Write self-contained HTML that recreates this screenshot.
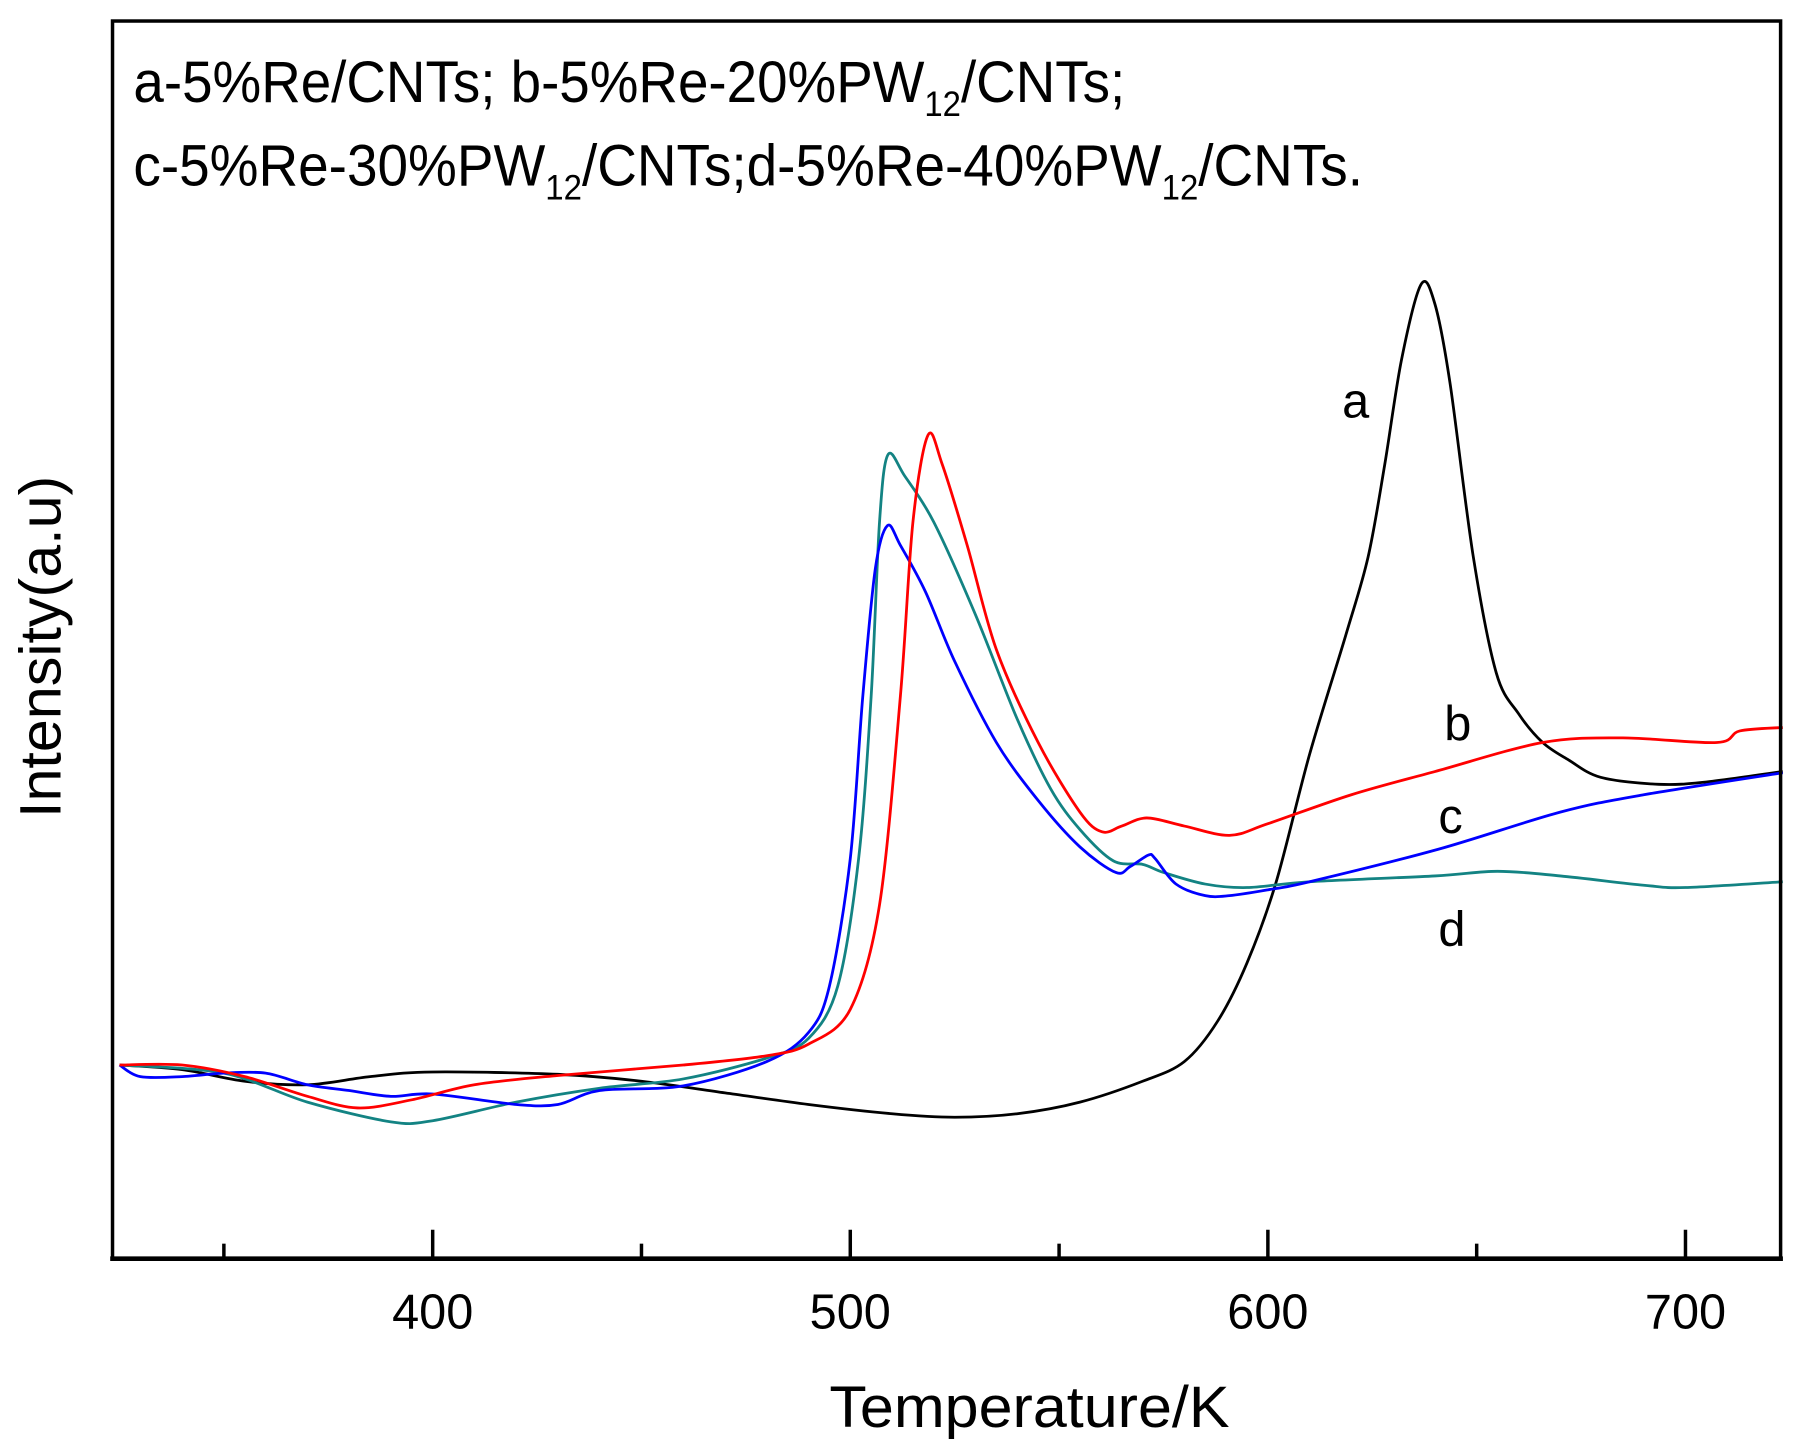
<!DOCTYPE html>
<html><head><meta charset="utf-8"><style>html,body{margin:0;padding:0;background:#fff}svg{display:block}</style></head>
<body>
<svg id="chart" width="1798" height="1441" viewBox="0 0 1550 1242" xmlns="http://www.w3.org/2000/svg" font-family="'Liberation Sans', Arial, sans-serif">
<rect x="0" y="0" width="1550" height="1242" fill="#fff"/>
<g id="plot"></g>
<rect x="97" y="18" width="1438" height="1067" fill="none" stroke="#000" stroke-width="3"/>
<line x1="95" y1="1085" x2="1537" y2="1085" stroke="#000" stroke-width="4"/>
<g id="ticks"></g>
<text x="115" y="88" font-size="50" textLength="855" lengthAdjust="spacingAndGlyphs">a-5%Re/CNTs; b-5%Re-20%PW<tspan font-size="30" dy="12">12</tspan><tspan dy="-12">/CNTs;</tspan></text>
<text x="115" y="160" font-size="50" textLength="1060" lengthAdjust="spacingAndGlyphs">c-5%Re-30%PW<tspan font-size="30" dy="12">12</tspan><tspan dy="-12">/CNTs;d-5%Re-40%PW</tspan><tspan font-size="30" dy="12">12</tspan><tspan dy="-12">/CNTs.</tspan></text>
<text x="715" y="1230" font-size="50" textLength="345" lengthAdjust="spacingAndGlyphs">Temperature/K</text>
<text transform="translate(52,705) rotate(-90)" font-size="50" textLength="295" lengthAdjust="spacingAndGlyphs">Intensity(a.u)</text>
<text x="1157" y="360" font-size="42">a</text>
<text x="1245" y="638" font-size="42">b</text>
<text x="1240" y="718" font-size="42">c</text>
<text x="1240" y="815" font-size="42">d</text>
</svg>
<script>
const xTicks=[350,400,450,500,550,600,650,700];
const xTickLabels=["","400","","500","","600","","700"];
const tempA=[325,340,355,370,385,400,430,450,470,490,510,525,540,555,570,580,588,595,602,610,618.6,624,628,632,636.7,640,643.6,649.2,654.7,660,665.8,672,679.7,693.6,705,723.3];
const intA=[16.7,16.3,15.3,15.0,15.7,16.1,15.9,15.3,14.3,13.3,12.5,12.2,12.5,13.5,15.3,17.0,20.5,25.5,32.5,43.5,53.7,60.5,68.5,77.5,84.0,82.3,75.5,60.5,50.5,47.0,44.5,43.0,41.5,40.9,41.1,42.0];
const tempB=[325,340,355,370,382,395,410,430,460,480,490,500,507,512,515,518.6,522,528,535,545,555,560.3,565,571,580,590.8,600,620,640,665.8,685,707.5,713,723.3];
const intB=[16.7,16.7,15.7,14.0,13.0,13.7,15.0,15.8,16.7,17.5,18.5,21.5,30.5,48.5,63.5,71.0,68.5,61.5,52.5,44.5,38.5,36.8,37.3,38.0,37.3,36.5,37.5,40.0,42.0,44.5,44.9,44.5,45.5,45.8];
const tempC=[325,330,340,350,360,370,380,390,400,420,430,440,460,480,490,495,500,503,506,508.9,512,518,525,535,545,555,563.6,567,571.4,573,578,585,590.8,600,610,640.8,670,690,723.3];
const intC=[16.7,15.7,15.7,16.0,16.0,15.0,14.5,14.0,14.2,13.3,13.3,14.5,14.9,17.0,19.5,23.5,34.5,48.5,59.5,63.2,61.5,57.5,51.5,44.5,39.5,35.5,33.3,33.8,34.8,34.5,32.3,31.3,31.3,31.8,32.5,35.3,38.5,40.0,41.9];
const tempD=[325,350,370,390,400,420,440,460,480,490,497,502,505,507,509,513,520,530,540,548,555,563,570,575,585,595,610,640,655,670,690,700,723.3];
const intD=[16.7,16.0,13.5,11.8,11.9,13.5,14.7,15.5,17.3,19.0,23.5,34.5,48.5,63.5,69.3,67.5,63.5,55.5,46.5,40.5,37.0,34.3,34.0,33.3,32.3,32.0,32.5,33.0,33.4,33.0,32.2,32.0,32.5];
function xScale(t){return 373+(t-400)*3.6;}
function yScale(v){return 1085-v*10;}
const NS="http://www.w3.org/2000/svg";
const plot=document.getElementById('plot');
function smoothPath(pts){
  let d='M'+pts[0][0].toFixed(1)+','+pts[0][1].toFixed(1);
  const k=0.16;
  for(let i=0;i<pts.length-1;i++){
    const p0=pts[Math.max(0,i-1)],p1=pts[i],p2=pts[i+1],p3=pts[Math.min(pts.length-1,i+2)];
    const c1x=p1[0]+(p2[0]-p0[0])*k,c1y=p1[1]+(p2[1]-p0[1])*k;
    const c2x=p2[0]-(p3[0]-p1[0])*k,c2y=p2[1]-(p3[1]-p1[1])*k;
    d+=' C'+c1x.toFixed(1)+','+c1y.toFixed(1)+' '+c2x.toFixed(1)+','+c2y.toFixed(1)+' '+p2[0].toFixed(1)+','+p2[1].toFixed(1);
  }
  return d;
}
function drawSeries(ts,vs,color,name){
  const pts=ts.map((t,i)=>[xScale(t),yScale(vs[i])]);
  const p=document.createElementNS(NS,'path');
  p.setAttribute('d',smoothPath(pts));
  p.setAttribute('fill','none');p.setAttribute('stroke',color);p.setAttribute('stroke-width','2.4');
  p.setAttribute('stroke-linejoin','round');
  
  
  plot.appendChild(p);
}
drawSeries(tempA,intA,'#000','series-a-line');
drawSeries(tempD,intD,'#138383','series-d-line');
drawSeries(tempC,intC,'#0000ff','series-c-line');
drawSeries(tempB,intB,'#ff0000','series-b-line');
const tg=document.getElementById('ticks');
xTicks.forEach((t,i)=>{
  const major=xTickLabels[i]!=="";
  const l=document.createElementNS(NS,'line');
  l.setAttribute('x1',xScale(t));l.setAttribute('x2',xScale(t));
  l.setAttribute('y1',1085);l.setAttribute('y2',major?1060:1072);
  l.setAttribute('stroke','#000');l.setAttribute('stroke-width','3');
  
  
  tg.appendChild(l);
  if(major){
    const tx=document.createElementNS(NS,'text');
    tx.setAttribute('x',xScale(t));tx.setAttribute('y',1145);
    tx.setAttribute('text-anchor','middle');tx.setAttribute('font-size','42');
    tx.setAttribute('textLength','70');tx.setAttribute('lengthAdjust','spacingAndGlyphs');
    tx.textContent=xTickLabels[i];
    
    
    tg.appendChild(tx);
  }
});
</script>
</body></html>
